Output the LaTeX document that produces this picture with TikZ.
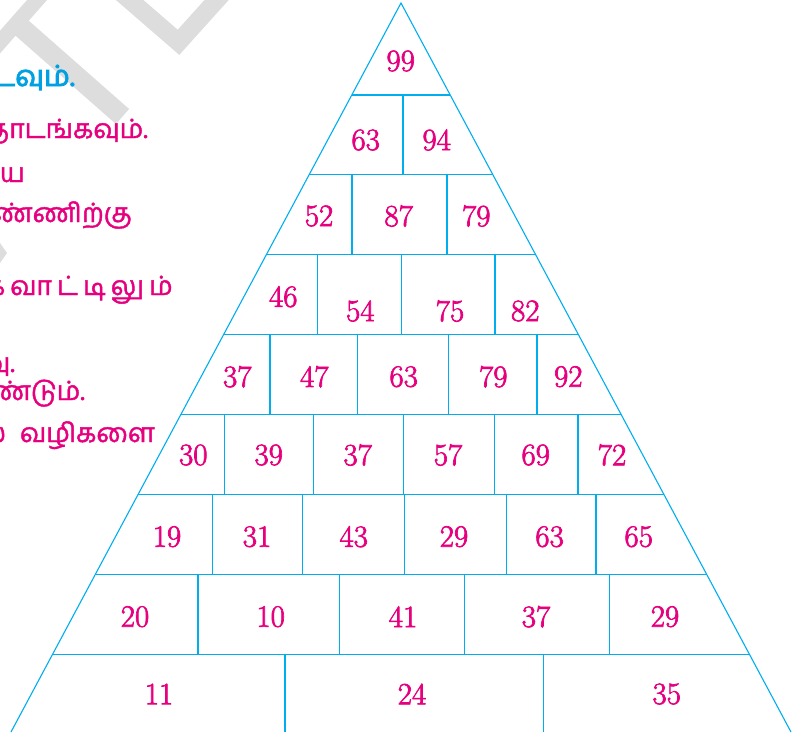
\documentclass[tikz,border=0pt]{standalone}
\usepackage{fontspec}
\newfontfamily\tafont[Script=Tamil,FakeBold=1.6]{Hind Madurai}
\newfontfamily\tahead[Script=Tamil,FakeBold=3]{Hind Madurai}
\newfontfamily\numfont[FakeBold=2.2]{Latin Modern Roman}
\definecolor{pyrblue}{RGB}{0,174,239}
\definecolor{nummag}{RGB}{230,0,126}
\definecolor{headcyan}{RGB}{0,160,225}
\definecolor{wmgray}{RGB}{221,221,221}
\begin{document}
\begin{tikzpicture}[x=1pt,y=-1pt,
  grid/.style={draw=pyrblue,line width=1.1pt},
  num/.style={text=nummag,inner sep=0pt,font=\numfont\fontsize{31}{31}\selectfont},
  tam/.style={text=nummag,inner sep=0pt,anchor=base east,font=\tafont\fontsize{26.5}{26.5}\selectfont},
  wm/.style={draw=wmgray}]
\useasboundingbox (0,0) rectangle (796,732);
\begin{scope}
\clip (0,0) rectangle (796,732);
% watermark pieces
\draw[wm,line width=15pt] (59,-25) -- (-7,50);
\draw[wm,line width=20pt] (16.7,23.4) -- (122.5,116.5);
\draw[wm,line width=18pt,miter limit=10] (110,-17) -- (178.5,42.3) -- (240,-26);
\fill[wmgray] (0,243) -- (7,253) -- (0,263) -- cycle;
% Tamil text (cut at the left edge, as in the original page)
\node[tam,text=headcyan,font=\tahead\fontsize{29}{29}\selectfont] (t1) at (75,86) {டவும்.};
\node[tam] (t2) at (148,138) {தொடங்கவும்.};
\node[tam] (t3) at (25,182) {பெரிய};
\node[tam] (t4) at (132,222) {எண்ணிற்கு};
\node[tam] (t5) at (173,295) {க்\hspace{5pt}க\hspace{5pt}வா\hspace{5pt}ட்\hspace{5pt}டி\hspace{5pt}லு\hspace{5pt}ம்};
\node[tam] (t6) at (15,372) {வு.};
\node[tam] (t7) at (85,400) {வேண்டும்.};
\node[tam] (t8) at (155,442) {பல\hspace{14pt}வழிகளை};
% pyramid outline
\coordinate (apex) at (401,3);
\coordinate (bl) at (11,732);
\coordinate (br) at (791,732);
\draw[grid,line join=miter] (bl) -- (apex) -- (br);
\foreach \yy in {95,174.9,254.8,334.7,414.6,494.5,574.4,654.3}{
  \pgfmathsetmacro\pyrhw{0.53498*(\yy-3)}
  \draw[grid] (401-\pyrhw,\yy) -- (401+\pyrhw,\yy);
}
% vertical dividers
\foreach \xx/\ya/\yb in {
  403/95/174.9,
  352/174.9/254.8, 447/174.9/254.8,
  317.7/254.8/334.7, 401.7/254.8/334.7, 495/254.8/334.7,
  270/334.7/414.6, 357.7/334.7/414.6, 448.7/334.7/414.6, 537/334.7/414.6,
  224.3/414.6/494.5, 313.3/414.6/494.5, 403.3/414.6/494.5, 494.7/414.6/494.5, 578/414.6/494.5,
  212.7/494.5/574.4, 302.3/494.5/574.4, 404.6/494.5/574.4, 506.4/494.5/574.4, 596/494.5/574.4,
  198/574.4/654.3, 339.4/574.4/654.3, 464.6/574.4/654.3, 609.2/574.4/654.3,
  285/654.3/732, 543.5/654.3/732}{
  \draw[grid] (\xx,\ya) -- (\xx,\yb);
}
\end{scope}
% numbers
\node[num] (a1) at (400.7,61) {99};
\node[num] (b1) at (365.7,140) {63};
\node[num] (b2) at (436.7,140) {94};
\node[num] (c1) at (319,216) {52};
\node[num] (c2) at (398.7,216) {87};
\node[num] (c3) at (476.3,216) {79};
\node[num] (d1) at (283.3,296.7) {46};
\node[num] (d2) at (360.3,311) {54};
\node[num] (d3) at (450,311) {75};
\node[num] (d4) at (525.3,311) {82};
\node[num] (e1) at (237.3,376.7) {37};
\node[num] (e2) at (314.3,376.7) {47};
\node[num] (e3) at (403.7,376.7) {63};
\node[num] (e4) at (493.3,376.7) {79};
\node[num] (e5) at (568.3,376.7) {92};
\node[num] (f1) at (193.3,455) {30};
\node[num] (f2) at (268.7,455) {39};
\node[num] (f3) at (357.7,455) {37};
\node[num] (f4) at (448,455) {57};
\node[num] (f5) at (535.7,455) {69};
\node[num] (f6) at (612,455) {72};
\node[num] (g1) at (167,536.7) {19};
\node[num] (g2) at (257,536.7) {31};
\node[num] (g3) at (353.7,536.7) {43};
\node[num] (g4) at (454,536.7) {29};
\node[num] (g5) at (549.6,536.7) {63};
\node[num] (g6) at (638.7,536.7) {65};
\node[num] (h1) at (135,616.7) {20};
\node[num] (h2) at (270.7,616.7) {10};
\node[num] (h3) at (403,616.7) {41};
\node[num] (h4) at (536,616.7) {37};
\node[num] (h5) at (665,616.7) {29};
\node[num] (i1) at (159,694) {11};
\node[num] (i2) at (412,694) {24};
\node[num] (i3) at (666.7,694) {35};
\end{tikzpicture}
\end{document}
